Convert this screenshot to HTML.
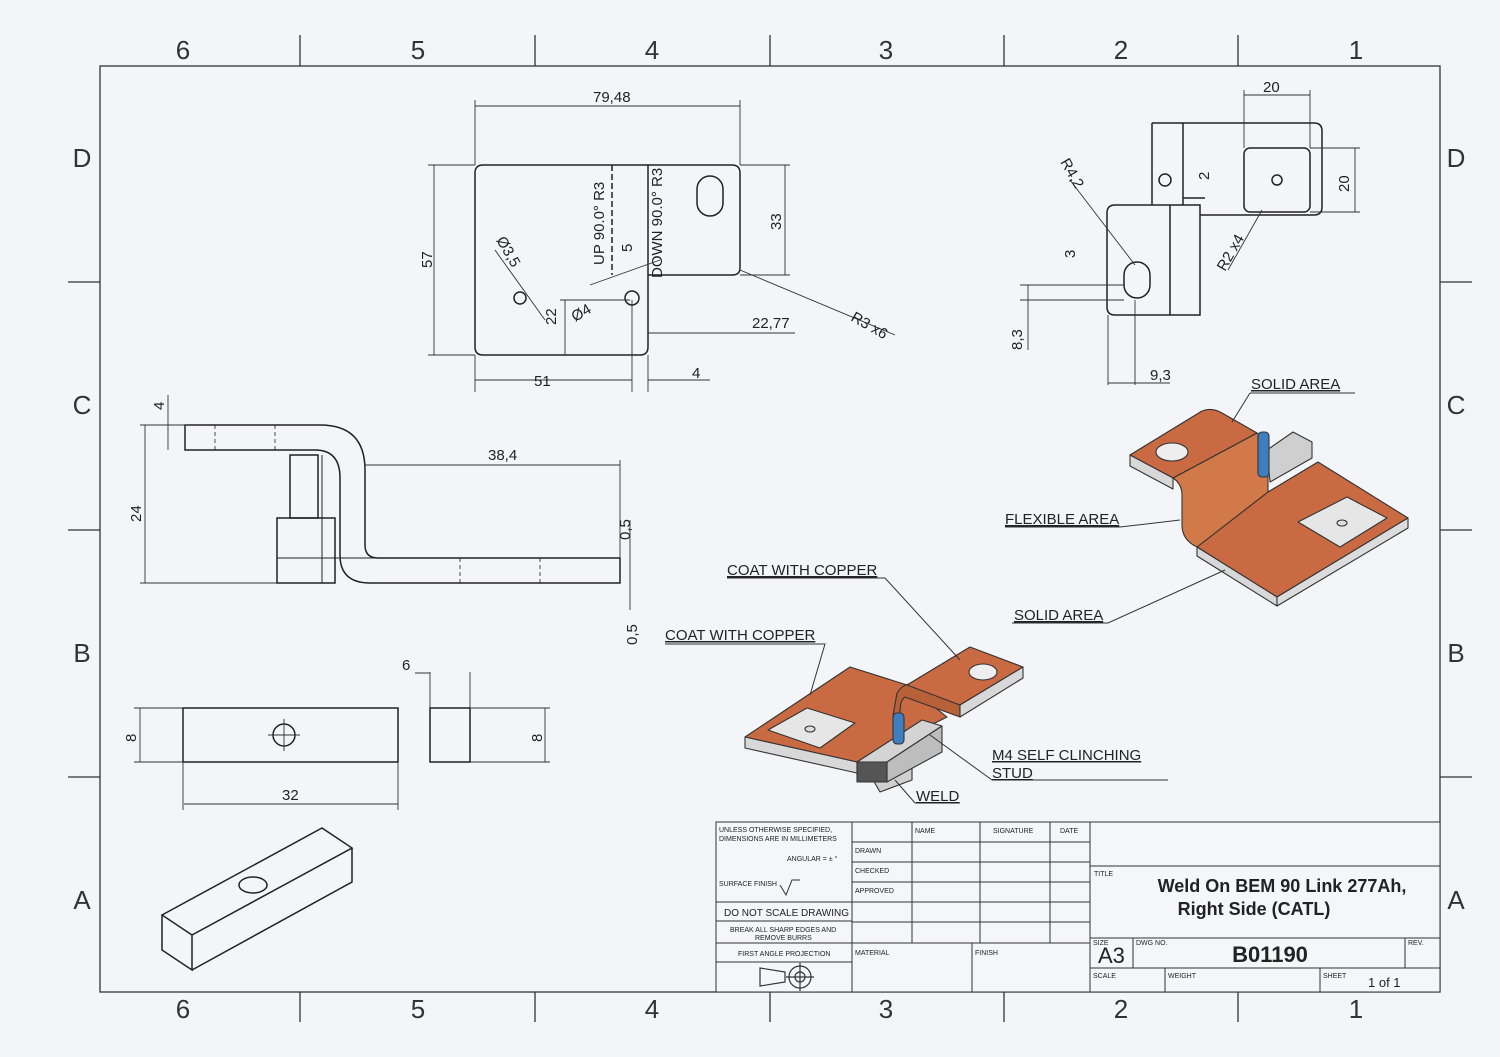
<!DOCTYPE html>
<html><head><meta charset="utf-8"><style>
html,body{margin:0;padding:0;background:#f3f5f8;}
svg{display:block;font-family:"Liberation Sans",sans-serif;}
</style></head><body>
<svg width="1500" height="1057" viewBox="0 0 1500 1057" xmlns="http://www.w3.org/2000/svg">
<rect width="1500" height="1057" fill="#f3f5f8"/>
<g stroke="#333" fill="none" stroke-width="1.3">
<rect x="100" y="66" width="1340" height="926"/>
<path d="M300 35V66M535 35V66M770 35V66M1004 35V66M1238 35V66M300 992V1022M535 992V1022M770 992V1022M1004 992V1022M1238 992V1022"/>
<path d="M68 282H100M68 530H100M68 777H100M1440 282H1472M1440 530H1472M1440 777H1472"/>
</g>
<g font-size="26" fill="#333" text-anchor="middle">
<text x="183" y="59">6</text><text x="418" y="59">5</text><text x="652" y="59">4</text><text x="886" y="59">3</text><text x="1121" y="59">2</text><text x="1356" y="59">1</text>
<text x="183" y="1018">6</text><text x="418" y="1018">5</text><text x="652" y="1018">4</text><text x="886" y="1018">3</text><text x="1121" y="1018">2</text><text x="1356" y="1018">1</text>
<text x="82" y="167">D</text><text x="82" y="414">C</text><text x="82" y="662">B</text><text x="82" y="909">A</text>
<text x="1456" y="167">D</text><text x="1456" y="414">C</text><text x="1456" y="662">B</text><text x="1456" y="909">A</text>
</g>

<!-- top view -->
<g stroke="#222" fill="none" stroke-width="1.5">
<path d="M483 165H732Q740 165 740 173V268Q740 275 732 275H648V347Q648 355 640 355H483Q475 355 475 347V173Q475 165 483 165Z"/>
<path d="M612 165V275" stroke-dasharray="6 3"/><path d="M648 165V275"/>
<rect x="697" y="176" width="26" height="40" rx="13"/>
<circle cx="520" cy="298" r="6"/><circle cx="632" cy="298" r="7"/>
</g>
<g stroke="#333" fill="none" stroke-width="0.9">
<path d="M475 106H740M475 100V165M740 100V165M434 165V355M428 165H475M428 355H475M785 165V275M740 165H790M740 275H790"/>
<path d="M648 333H795M475 380H632M648 380H710M475 355V392M632 300V392M648 355V392M495 250L545 320M590 285L660 260M740 270L895 335M565 300V355M560 300H630"/>
</g>
<g font-size="15" fill="#222">
<text x="593" y="102">79,48</text><text x="534" y="386">51</text><text x="692" y="378">4</text><text x="752" y="328">22,77</text>
<text transform="translate(432 268) rotate(-90)">57</text><text transform="translate(781 230) rotate(-90)">33</text>
<text transform="translate(556 325) rotate(-90)">22</text><text transform="translate(632 252) rotate(-90)">5</text>
<text transform="translate(604 265) rotate(-90)">UP 90.0° R3</text><text transform="translate(662 278) rotate(-90)">DOWN 90.0° R3</text>
<text transform="translate(496 240) rotate(60)">Ø3,5</text><text transform="translate(575 322) rotate(-30)">Ø4</text>
<text transform="translate(850 320) rotate(30)">R3 x6</text>
</g>

<!-- side view -->
<g stroke="#222" fill="none" stroke-width="1.5">
<path d="M185 425H320Q365 425 365 470V545Q365 558 378 558H620V583H370Q340 583 340 555V478Q340 450 315 450H185Z"/>
<rect x="277" y="518" width="58" height="65"/><rect x="290" y="455" width="28" height="63"/>
<path d="M277 558H620M322 455V583" stroke-width="1"/>
<path d="M215 425V450M275 425V450M460 558V583M540 558V583" stroke-dasharray="4 3" stroke-width="0.8"/>
</g>
<g stroke="#333" fill="none" stroke-width="0.9">
<path d="M145 425V583M140 425H185M140 583H277M168 395V450M165 425H190M365 465H620M620 460V558M630 520V583M630 610V583"/>
</g>
<g font-size="15" fill="#222">
<text x="488" y="460">38,4</text>
<text transform="translate(141 522) rotate(-90)">24</text><text transform="translate(164 410) rotate(-90)">4</text>
<text transform="translate(630 540) rotate(-90)">0,5</text><text transform="translate(637 645) rotate(-90)">0,5</text>
</g>

<!-- top right view -->
<g stroke="#222" fill="none" stroke-width="1.5">
<path d="M1115 205H1200V315H1115Q1107 315 1107 307V213Q1107 205 1115 205Z"/>
<path d="M1152 123H1314Q1322 123 1322 131V207Q1322 215 1314 215H1200M1152 123V205M1183 123V205M1170 205V315"/>
<rect x="1244" y="148" width="66" height="64" rx="6"/>
<circle cx="1165" cy="180" r="6"/><circle cx="1277" cy="180" r="5"/>
<rect x="1124" y="262" width="26" height="36" rx="13"/>
<path d="M1183 198H1205"/>
</g>
<g stroke="#333" fill="none" stroke-width="0.9">
<path d="M1244 95H1310M1244 90V148M1310 90V148M1355 148V212M1310 148H1360M1310 212H1360M1070 180L1135 265M1228 270L1262 210M1028 285V350M1020 285H1124M1020 300H1124M1108 315V385M1108 383H1170M1135 300V385"/>
</g>
<g font-size="15" fill="#222">
<text x="1263" y="92">20</text><text x="1150" y="380">9,3</text>
<text transform="translate(1349 192) rotate(-90)">20</text><text transform="translate(1209 180) rotate(-90)">2</text>
<text transform="translate(1075 258) rotate(-90)">3</text><text transform="translate(1022 350) rotate(-90)">8,3</text>
<text transform="translate(1060 162) rotate(60)">R4,2</text><text transform="translate(1225 272) rotate(-60)">R2 x4</text>
</g>

<!-- blocks -->
<g stroke="#222" fill="none" stroke-width="1.5">
<rect x="183" y="708" width="215" height="54"/><rect x="430" y="708" width="40" height="54"/>
<circle cx="284" cy="735" r="11"/>
<path d="M162 915L322 828L352 848L192 935Z M162 915V950L192 970V935M352 848V882L192 970"/>
<ellipse cx="253" cy="885" rx="14" ry="8"/>
</g>
<g stroke="#333" fill="none" stroke-width="0.9">
<path d="M184 804H398M183 762V810M398 762V810M140 708V762M134 708H183M134 762H183M545 708V762M470 708H550M470 762H550M430 672V708M470 672V708M415 673H430M268 735H300M284 719V751"/>
</g>
<g font-size="15" fill="#222">
<text x="282" y="800">32</text><text x="402" y="670">6</text>
<text transform="translate(136 742) rotate(-90)">8</text><text transform="translate(542 742) rotate(-90)">8</text>
</g>

<!-- iso upper right -->
<g stroke="#333" stroke-width="1.1" stroke-linejoin="round">
<!-- grey block behind -->
<path d="M1267 450L1293 432L1312 442V458L1270 482Z" fill="#cfcfcf"/>
<!-- bottom plate -->
<path d="M1197 547L1277 597L1408 518L1318 462L1268 492Z" fill="#c96a42"/>
<path d="M1197 547V556L1277 606V597Z" fill="#d8d8d8"/>
<path d="M1277 597L1408 518V528L1277 606Z" fill="#dcdcdc"/>
<!-- bend wall -->
<path d="M1173 478L1257 433Q1268 440 1268 460V492L1197 547Q1182 540 1182 525V495Q1182 484 1173 478Z" fill="#d2794a"/>
<!-- top flange -->
<path d="M1130 455L1202 411Q1212 407 1222 413L1257 433L1173 478Z" fill="#c96a42"/>
<path d="M1130 455V466L1173 489V478Z" fill="#d8d8d8"/>
<path d="M1298 522L1347 497L1387 518L1340 547Z" fill="#e6e6e6"/>
<ellipse cx="1342" cy="523" rx="5" ry="3" fill="#ddd"/>
<ellipse cx="1172" cy="452" rx="16" ry="9" fill="#eee"/>
<rect x="1258" y="432" width="11" height="45" rx="4" fill="#3d7ec0"/>
</g>
<!-- iso lower left -->
<g stroke="#333" stroke-width="1.1" stroke-linejoin="round">
<!-- bottom plate -->
<path d="M745 737L850 667L907 685L947 717L857 762Z" fill="#c96a42"/>
<path d="M745 737V748L857 773V762Z" fill="#d8d8d8"/>
<!-- weld -->
<path d="M872 778L912 762V780L880 792Z" fill="#d0d0d0"/>
<!-- grey block -->
<path d="M857 762L922 720L942 726L887 762Z" fill="#d4d4d4"/>
<path d="M887 762L942 726V752L887 782Z" fill="#bdbdbd"/>
<path d="M857 762H887V782H857Z" fill="#555"/>
<!-- bend wall -->
<path d="M897 693Q903 684 910 684L960 705V717L905 697Q900 700 900 712V720L893 716Z" fill="#b86038"/>
<!-- flange -->
<path d="M907 685L970 647L1023 667L960 705Z" fill="#c96a42"/>
<path d="M960 705L1023 667V678L960 717Z" fill="#d8d8d8"/>
<path d="M768 730L807 708L855 723L820 748Z" fill="#e6e6e6"/>
<ellipse cx="810" cy="729" rx="5" ry="3" fill="#ddd"/>
<ellipse cx="983" cy="672" rx="14" ry="8" fill="#eee"/>
<rect x="893" y="713" width="11" height="31" rx="4" fill="#3d7ec0"/>
</g>
<!-- leaders -->
<g stroke="#333" fill="none" stroke-width="1">
<path d="M1250 393H1355M1250 393L1232 422M1005 527H1120L1180 520M1012 623H1108L1225 570M727 578H885L960 660M665 644H825L810 695M992 780H1168M992 780L930 735M915 803H960M915 803L895 780"/>
</g>
<g font-size="15" fill="#222" text-decoration="underline">
<text x="1251" y="389">SOLID AREA</text><text x="1005" y="524">FLEXIBLE AREA</text><text x="1014" y="620">SOLID AREA</text>
<text x="727" y="575">COAT WITH COPPER</text><text x="665" y="640">COAT WITH COPPER</text>
<text x="992" y="760" text-decoration="none">M4 SELF CLINCHING</text><text x="992" y="778">STUD</text><text x="916" y="801">WELD</text>
</g>

<!-- title block -->
<rect x="716" y="822" width="724" height="170" stroke="#333" fill="#f5f6f8"/>
<g stroke="#333" fill="none" stroke-width="1">
<path d="M852 822V992M912 822V943M980 822V943M1050 822V943M1090 822V992M972 943V992"/>
<path d="M852 842H1090M852 862H1090M852 882H1090M852 902H1090M852 922H1090M852 943H1090"/>
<path d="M716 902H852M716 921H852M716 943H852M716 962H852"/>
<path d="M1090 866H1440M1090 938H1440M1090 968H1440M1133 938V968M1405 938V968M1165 968V992M1320 968V992"/>
</g>
<g fill="#222" font-size="7">
<text x="719" y="832">UNLESS OTHERWISE SPECIFIED,</text><text x="719" y="841">DIMENSIONS ARE IN MILLIMETERS</text>
<text x="787" y="861">ANGULAR = ± °</text><text x="719" y="886">SURFACE FINISH</text>
<text x="855" y="853">DRAWN</text><text x="855" y="873">CHECKED</text><text x="855" y="893">APPROVED</text>
<text x="915" y="833">NAME</text><text x="993" y="833">SIGNATURE</text><text x="1060" y="833">DATE</text>
<text x="855" y="955">MATERIAL</text><text x="975" y="955">FINISH</text>
<text x="1094" y="876">TITLE</text><text x="1093" y="945">SIZE</text><text x="1136" y="945">DWG NO.</text><text x="1408" y="945">REV.</text>
<text x="1093" y="978">SCALE</text><text x="1168" y="978">WEIGHT</text><text x="1323" y="978">SHEET</text>
<text x="730" y="932">BREAK ALL SHARP EDGES AND</text><text x="755" y="940">REMOVE BURRS</text>
<text x="738" y="956">FIRST ANGLE PROJECTION</text>
</g>
<path d="M780 885L786 895L792 880H800" stroke="#333" fill="none"/>
<text x="724" y="916" font-size="10" fill="#222">DO NOT SCALE DRAWING</text>
<g stroke="#333" fill="none" stroke-width="1.2"><path d="M760 968L785 972V982L760 986Z"/><circle cx="800" cy="977" r="11"/><circle cx="800" cy="977" r="5"/><path d="M786 977H814M800 963V991"/></g>
<g fill="#222" font-weight="bold" text-anchor="middle">
<text x="1282" y="892" font-size="18">Weld On BEM 90 Link 277Ah,</text>
<text x="1254" y="915" font-size="18">Right Side (CATL)</text>
<text x="1270" y="962" font-size="22">B01190</text>
</g>
<text x="1098" y="963" font-size="22" fill="#222">A3</text>
<text x="1368" y="987" font-size="13" fill="#222">1 of 1</text>
</svg>
</body></html>
